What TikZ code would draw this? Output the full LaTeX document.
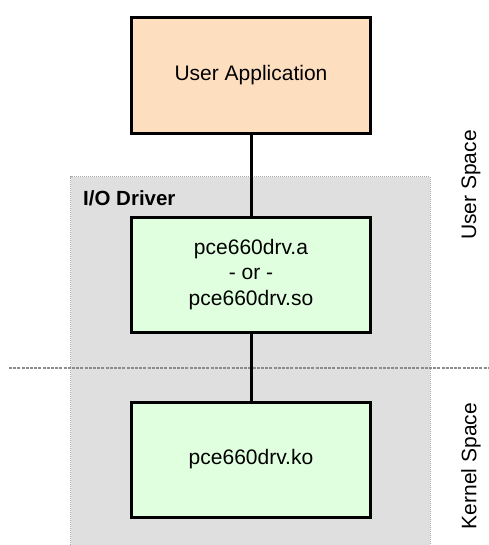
\documentclass[tikz,border=0pt]{standalone}
\usepackage{fontspec}
\setmainfont{Liberation Sans}
\definecolor{appfill}{HTML}{FDDFC0}
\definecolor{drvfill}{HTML}{DFFFDF}
\definecolor{grayfill}{HTML}{DFDFDF}
\definecolor{grayline}{HTML}{A8A8A8}
\definecolor{dashcol}{HTML}{8C8C8C}
\begin{document}
\begin{tikzpicture}[x=1pt,y=-1pt,
  txt/.style={font=\fontsize{21}{25.5}\selectfont, text=black},
  boxbase/.style={txt, draw=black, line width=3pt, minimum width=239pt, align=center, inner sep=0pt},
  appbox/.style={boxbase, fill=appfill, minimum height=116pt},
  drvbox/.style={boxbase, fill=drvfill, minimum height=115pt},
  region/.style={fill=grayfill, draw=none, minimum width=359pt, minimum height=368pt, inner sep=0pt},
  regionedge/.style={draw=grayline, line width=1pt, densely dotted},
  conn/.style={draw=black, line width=3pt},
  divider/.style={draw=dashcol, line width=1.6pt, dash pattern=on 3pt off 1.2pt},
  spacelabel/.style={txt, rotate=90, inner sep=0pt}
]
\useasboundingbox (0,0) rectangle (488,545);
% I/O driver region
\node[region] (drv) at (250.5,361) {};
\draw[regionedge] (drv.south west) -- (drv.north west) -- (drv.north east) -- (drv.south east);
\node[txt, font=\fontsize{20.5}{24}\selectfont\bfseries, anchor=west, inner sep=0pt] (drvlabel) at (83,198) {I/O Driver};
% divider
\coordinate (divL) at (9,368);
\coordinate (divR) at (488,368);
\draw[divider] (divL) -- (divR);
% boxes
\node[appbox] (app) at (251,75.5) {User Application};
\node[drvbox] (lib) at (251,274.5) {pce660drv.a\\- or -\\pce660drv.so};
\node[drvbox] (ko) at (251,459.5) {pce660drv.ko};
% connectors
\draw[conn] (app.south) -- (lib.north);
\draw[conn] (lib.south) -- (ko.north);
% space labels
\node[spacelabel] (userspace) at (471,185) {User Space};
\node[spacelabel] (kernelspace) at (471,466) {Kernel Space};
\end{tikzpicture}
\end{document}
